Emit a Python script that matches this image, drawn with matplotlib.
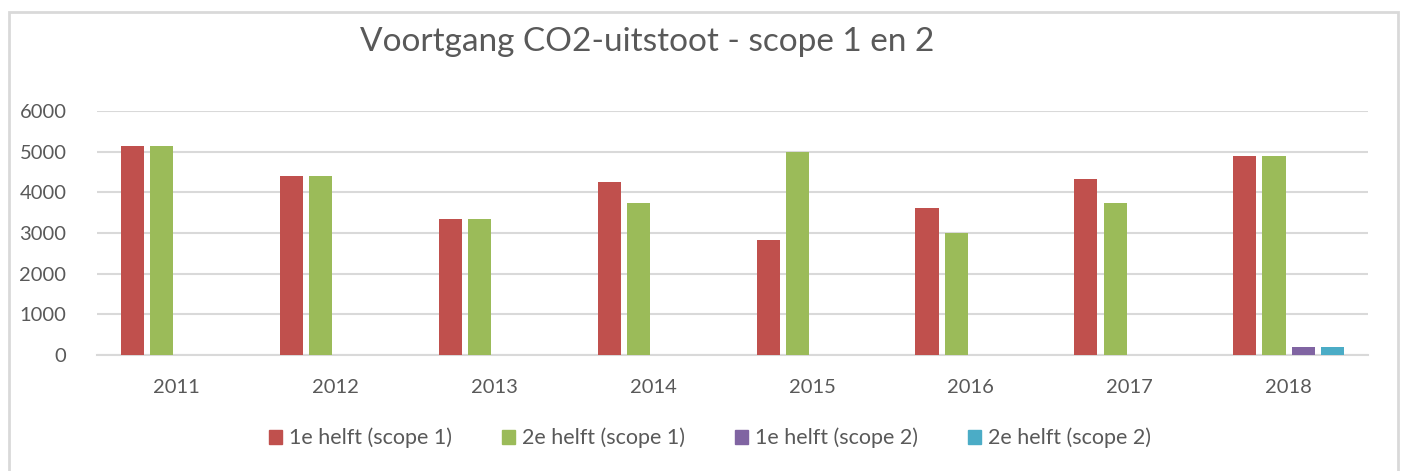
import numpy as np
import matplotlib.pyplot as plt
from matplotlib.patches import Rectangle

# data
years = ["2011", "2012", "2013", "2014", "2015", "2016", "2017", "2018"]
h1_scope1 = [5140, 4400, 3350, 4250, 2830, 3610, 4320, 4900]
h2_scope1 = [5140, 4400, 3350, 3740, 4980, 3010, 3730, 4900]
h1_scope2 = [0, 0, 0, 0, 0, 0, 0, 190]
h2_scope2 = [0, 0, 0, 0, 0, 0, 0, 190]
labels = ["1e helft (scope 1)", "2e helft (scope 1)", "1e helft (scope 2)", "2e helft (scope 2)"]
colors = ["#C0504D", "#9BBB59", "#8064A2", "#4BACC6"]

text_col = "#595959"
grid_col = "#D9D9D9"
plt.rcParams["font.family"] = ["Lato", "DejaVu Sans"]

fig = plt.figure(figsize=(14.03, 4.71), dpi=100)
ax = fig.add_axes([0.0691, 0.2463, 0.906, 0.518])

x = np.arange(len(years))
slot = 0.184
width = 0.145
series = [h1_scope1, h2_scope1, h1_scope2, h2_scope2]
for i, (vals, lab, col) in enumerate(zip(series, labels, colors)):
    vals = np.array(vals, dtype=float)
    mask = vals > 0
    ax.bar(x[mask] + (i - 1.5) * slot, vals[mask], width, color=col, label=lab, zorder=3)

ax.set_xlim(-0.5, len(years) - 0.5)
ax.set_ylim(0, 6000)
ax.set_yticks(range(0, 6001, 1000))
ax.set_xticks(x)
ax.set_xticklabels(years)
ax.yaxis.grid(True, color=grid_col, linewidth=1.5, zorder=0)
for s in ["top", "right", "left"]:
    ax.spines[s].set_visible(False)
ax.spines["bottom"].set_color(grid_col)
ax.spines["bottom"].set_linewidth(1.5)
ax.tick_params(axis="both", length=0, labelsize=14.5, colors=text_col)
ax.tick_params(axis="x", pad=17)
ax.tick_params(axis="y", pad=22)

fig.text(0.461, 1 - 42 / 471, "Voortgang CO2-uitstoot - scope 1 en 2", ha="center", va="center",
         fontsize=24, color=text_col)

handles = [Rectangle((0, 0), 1, 1, color=c) for c in colors]
leg = fig.legend(handles, labels, loc="center", bbox_to_anchor=(0.506, 1 - 438 / 471), ncol=4,
                 frameon=False, fontsize=15.5, handlelength=0.6, handleheight=0.6,
                 handletextpad=0.35, columnspacing=2.3)
for t in leg.get_texts():
    t.set_color(text_col)

# outer chart border (light gray frame)
fig.patches.append(Rectangle((9 / 1403, -0.05), (1397.5 - 9) / 1403, 1.05 - 11.5 / 471, transform=fig.transFigure,
                             fill=False, edgecolor=grid_col, linewidth=2))

fig.savefig("out.png", dpi=100)
